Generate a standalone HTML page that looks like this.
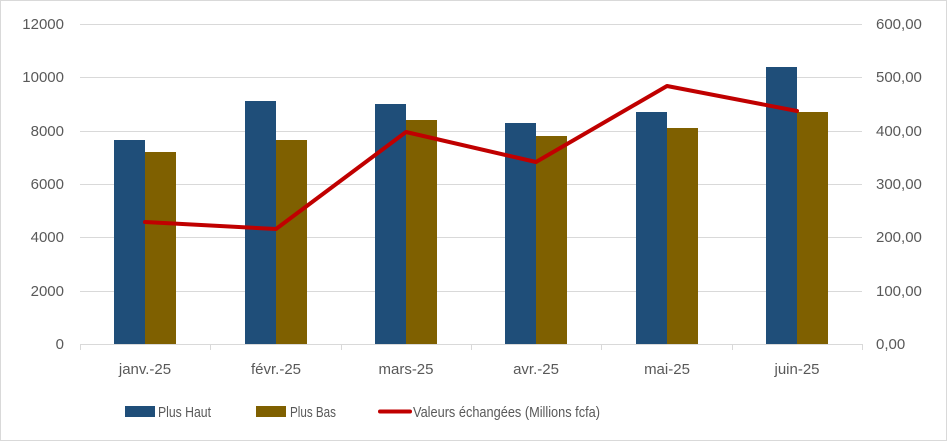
<!DOCTYPE html>
<html><head><meta charset="utf-8"><style>
body{margin:0;background:#fff}
svg{display:block;font-family:"Liberation Sans",sans-serif;}
text{fill:#595959;font-size:15px}
</style></head><body>
<svg width="947" height="441" viewBox="0 0 947 441">
<rect x="0.5" y="0.5" width="946" height="440" fill="#fff" stroke="#d9d9d9"/>
<g stroke="#d9d9d9" stroke-width="1">
<line x1="80" y1="24.5" x2="862" y2="24.5"/>
<line x1="80" y1="77.5" x2="862" y2="77.5"/>
<line x1="80" y1="131.5" x2="862" y2="131.5"/>
<line x1="80" y1="184.5" x2="862" y2="184.5"/>
<line x1="80" y1="237.5" x2="862" y2="237.5"/>
<line x1="80" y1="291.5" x2="862" y2="291.5"/>
<line x1="80" y1="344.5" x2="862" y2="344.5"/>
<line x1="80.5" y1="344" x2="80.5" y2="350"/>
<line x1="210.5" y1="344" x2="210.5" y2="350"/>
<line x1="341.5" y1="344" x2="341.5" y2="350"/>
<line x1="471.5" y1="344" x2="471.5" y2="350"/>
<line x1="601.5" y1="344" x2="601.5" y2="350"/>
<line x1="732.5" y1="344" x2="732.5" y2="350"/>
<line x1="862.5" y1="344" x2="862.5" y2="350"/>
</g>
<g fill="#1F4E79">
<rect x="114" y="140" width="31" height="204"/>
<rect x="245" y="101" width="31" height="243"/>
<rect x="375" y="104" width="31" height="240"/>
<rect x="505" y="123" width="31" height="221"/>
<rect x="636" y="112" width="31" height="232"/>
<rect x="766" y="67" width="31" height="277"/>
</g>
<g fill="#7F6000">
<rect x="145" y="152" width="31" height="192"/>
<rect x="276" y="140" width="31" height="204"/>
<rect x="406" y="120" width="31" height="224"/>
<rect x="536" y="136" width="31" height="208"/>
<rect x="667" y="128" width="31" height="216"/>
<rect x="797" y="112" width="31" height="232"/>
</g>
<polyline points="145,222 276,229 406,132 536,162 667,86 797,111" fill="none" stroke="#C00000" stroke-width="4" stroke-linejoin="round" stroke-linecap="round"/>
<g text-anchor="end">
<text x="64" y="29">12000</text><text x="64" y="82">10000</text><text x="64" y="136">8000</text>
<text x="64" y="189">6000</text><text x="64" y="242">4000</text><text x="64" y="296">2000</text><text x="64" y="349">0</text>
</g>
<g text-anchor="start">
<text x="876" y="29">600,00</text><text x="876" y="82">500,00</text><text x="876" y="136">400,00</text>
<text x="876" y="189">300,00</text><text x="876" y="242">200,00</text><text x="876" y="296">100,00</text><text x="876" y="349">0,00</text>
</g>
<g text-anchor="middle">
<text x="145" y="374">janv.-25</text><text x="276" y="374">févr.-25</text><text x="406" y="374">mars-25</text>
<text x="536" y="374">avr.-25</text><text x="667" y="374">mai-25</text><text x="797" y="374">juin-25</text>
</g>
<rect x="125" y="406" width="30" height="11" fill="#1F4E79"/>
<text x="158" y="417" textLength="53" lengthAdjust="spacingAndGlyphs">Plus Haut</text>
<rect x="256" y="406" width="30" height="11" fill="#7F6000"/>
<text x="290" y="417" textLength="46" lengthAdjust="spacingAndGlyphs">Plus Bas</text>
<line x1="380" y1="411.5" x2="410" y2="411.5" stroke="#C00000" stroke-width="4" stroke-linecap="round"/>
<text x="413" y="417" textLength="187" lengthAdjust="spacingAndGlyphs">Valeurs échangées (Millions fcfa)</text>
</svg>
</body></html>
